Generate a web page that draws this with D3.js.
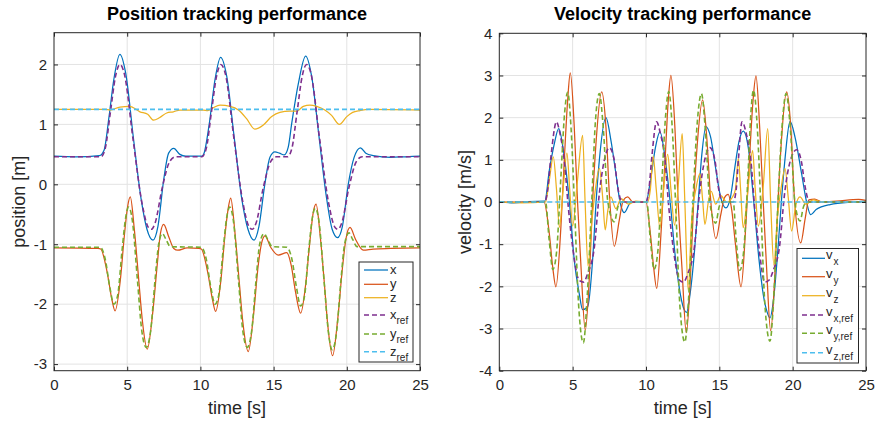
<!DOCTYPE html>
<html>
<head>
<meta charset="utf-8">
<script src="https://cdn.jsdelivr.net/npm/d3@7"></script>
<style>
  body { margin: 0; background: #fff; }
  svg { display: block; font-family: "Liberation Sans", Arial, Helvetica, sans-serif; }
</style>
</head>
<body>
<svg id="chart" width="880" height="428"></svg>
<script>
// ---- data: [time s, value] samples ----
const timeTicks = [0, 5, 10, 15, 20, 25];
const posTicks = [-3, -2, -1, 0, 1, 2];
const velTicks = [-4, -3, -2, -1, 0, 1, 2, 3, 4];

const posX = [[0,0.47],[1.5,0.46],[3.1,0.48],[3.42,0.57],[3.76,1.13],[4.08,1.74],[4.5,2.17],[4.9,1.85],[5.44,0.74],[5.96,-0.26],[6.35,-0.75],[6.76,-0.93],[7.1,-0.7],[7.49,0.07],[7.83,0.52],[8.18,0.6],[8.6,0.5],[9.0,0.47],[10.1,0.47],
  [10.25,0.52],[10.6,1.0],[11.0,1.75],[11.38,2.12],[11.8,1.8],[12.3,0.8],[12.8,-0.2],[13.25,-0.75],[13.66,-0.93],[14.0,-0.7],[14.4,0.0],[14.75,0.45],[15.09,0.54],[15.4,0.52],[15.73,0.49],[16.0,0.62],[16.24,1.02],[16.69,1.68],[17.19,2.14],
  [17.6,1.8],[18.1,0.8],[18.6,-0.2],[19.0,-0.75],[19.37,-0.89],[19.7,-0.7],[20.1,0.0],[20.5,0.45],[20.93,0.61],[21.3,0.52],[21.8,0.48],[23.0,0.45],[24.0,0.46],[25,0.47]];
const posY = [[0,-1.06],[3.0,-1.07],[3.19,-1.08],[3.64,-1.48],[3.96,-1.93],[4.17,-2.11],[4.53,-1.6],[4.8,-0.87],[5.03,-0.37],[5.21,-0.21],[5.49,-0.76],[5.79,-1.6],[6.03,-2.26],[6.37,-2.75],[6.74,-2.15],[7.06,-1.32],[7.27,-0.82],[7.49,-0.67],[7.83,-0.87],[8.18,-1.07],[8.45,-1.1],[9.1,-1.06],[9.9,-1.07],
  [10.06,-1.08],[10.51,-1.48],[10.83,-1.93],[11.04,-2.12],[11.4,-1.6],[11.67,-0.87],[11.9,-0.4],[12.07,-0.23],[12.35,-0.78],[12.65,-1.62],[12.9,-2.3],[13.27,-2.79],[13.62,-2.2],[13.95,-1.35],[14.18,-0.98],[14.41,-0.86],[14.8,-1.05],[15.32,-1.18],[15.9,-1.14],
  [16.2,-1.35],[16.5,-1.8],[16.85,-2.15],[17.2,-1.65],[17.48,-0.95],[17.72,-0.45],[17.9,-0.33],[18.18,-0.85],[18.45,-1.6],[18.7,-2.35],[19.03,-2.86],[19.38,-2.25],[19.7,-1.4],[19.95,-0.9],[20.22,-0.72],[20.6,-0.92],[21.13,-1.1],[21.8,-1.08],[23.0,-1.07],[25,-1.06]];
const posZ = [[0,1.25],[3.5,1.25],[3.83,1.24],[4.5,1.29],[5.17,1.3],[5.87,1.21],[6.4,1.17],[6.8,1.07],[7.2,1.11],[7.7,1.19],[8.15,1.21],[8.6,1.24],[10.2,1.24],[10.5,1.23],[10.88,1.28],[11.34,1.32],[12.03,1.3],[12.6,1.24],[13.14,1.1],[13.72,0.92],[14.3,0.99],[14.87,1.13],[15.43,1.2],[16.1,1.22],[16.57,1.22],
  [17.03,1.3],[17.48,1.32],[17.94,1.3],[18.5,1.24],[18.96,1.15],[19.49,1.0],[20.0,1.13],[20.4,1.2],[20.9,1.23],[21.5,1.25],[25,1.24]];
const posXRef = [[0,0.46],[3.2,0.46],[3.5,0.6],[3.85,1.2],[4.2,1.8],[4.5,2.0],[4.8,1.85],[5.4,0.75],[6.0,-0.3],[6.45,-0.72],[6.65,-0.75],[6.9,-0.65],[7.4,-0.05],[7.9,0.38],[8.3,0.46],[10.1,0.46],
  [10.4,0.6],[10.75,1.2],[11.1,1.8],[11.4,2.0],[11.7,1.85],[12.3,0.75],[12.9,-0.3],[13.35,-0.72],[13.55,-0.75],[13.8,-0.65],[14.3,-0.05],[14.8,0.38],[15.2,0.46],[15.95,0.46],
  [16.25,0.6],[16.6,1.2],[16.95,1.8],[17.25,2.0],[17.55,1.85],[18.15,0.75],[18.75,-0.3],[19.2,-0.72],[19.4,-0.75],[19.65,-0.65],[20.15,-0.05],[20.65,0.38],[21.05,0.46],[25,0.46]];
const posYRef = [[0,-1.05],[3.15,-1.05],[3.5,-1.25],[3.8,-1.7],[4.1,-2.0],[4.35,-1.85],[4.65,-1.1],[4.9,-0.55],[5.1,-0.38],[5.35,-0.6],[5.7,-1.6],[6.0,-2.45],[6.3,-2.72],[6.6,-2.45],[6.9,-1.6],[7.15,-1.0],[7.4,-0.82],[7.65,-0.92],[7.95,-1.04],[10.05,-1.05],
  [10.4,-1.25],[10.7,-1.7],[11.0,-2.0],[11.25,-1.85],[11.55,-1.1],[11.8,-0.55],[12.0,-0.38],[12.25,-0.6],[12.6,-1.6],[12.9,-2.45],[13.2,-2.72],[13.5,-2.45],[13.8,-1.6],[14.05,-1.0],[14.35,-0.82],[14.6,-0.92],[14.9,-1.04],[15.9,-1.05],
  [16.25,-1.25],[16.55,-1.7],[16.85,-2.03],[17.1,-1.88],[17.4,-1.1],[17.65,-0.55],[17.85,-0.4],[18.1,-0.62],[18.45,-1.62],[18.75,-2.48],[19.0,-2.76],[19.3,-2.47],[19.6,-1.6],[19.85,-1.0],[20.15,-0.81],[20.4,-0.92],[20.7,-1.04],[25,-1.04]];
const posZRef = [[0,1.25],[25,1.25]];

const velX = [[0,0],[1,-0.02],[2,0.01],[3.1,0.02],[3.41,0.75],[3.75,1.38],[4.05,1.74],[4.43,1.07],[4.77,0.04],[5.11,-1.38],[5.45,-2.17],[5.68,-2.55],[6.02,-2.49],[6.36,-1.38],[6.59,-0.04],[6.82,0.99],[7.27,2.0],[7.61,1.46],[7.95,0.67],[8.23,0],[8.52,-0.25],[8.98,0],[10.0,0],
  [10.3,0.5],[10.65,1.3],[10.95,1.66],[11.3,1.05],[11.65,0.0],[12.0,-1.3],[12.35,-2.2],[12.6,-2.55],[12.77,-2.62],[13.0,-2.2],[13.3,-1.2],[13.55,-0.05],[13.8,1.1],[14.09,1.79],[14.4,1.55],[14.75,0.8],[15.1,0.1],[15.45,-0.14],[15.75,0.1],[16.05,0.8],[16.35,1.45],[16.63,1.68],
  [16.97,1.3],[17.35,0.0],[17.7,-1.35],[18.0,-2.2],[18.25,-2.6],[18.45,-2.75],[18.7,-2.3],[19.0,-1.1],[19.25,0.1],[19.5,1.1],[19.82,1.91],[20.16,1.54],[20.61,0.67],[20.95,0.0],[21.23,-0.3],[21.6,-0.18],[22.55,-0.06],[24.1,0.0],[25,0.02]];
const velY = [[0,0],[3.05,0],[3.41,-0.75],[3.64,-1.54],[3.86,-2.01],[4.2,-0.59],[4.43,0.99],[4.66,2.41],[4.84,3.06],[5.11,1.78],[5.34,-0.04],[5.57,-1.54],[5.86,-3.04],[6.14,-1.78],[6.36,0],[6.59,1.38],[6.98,2.61],[7.27,1.78],[7.5,0.2],[7.84,-1.05],[8.18,-0.43],[8.45,0.04],[8.75,0.12],[9.1,0],[10,0],
  [10.3,-0.75],[10.52,-1.54],[10.73,-2.05],[11.05,-0.59],[11.3,0.99],[11.52,2.41],[11.7,3.0],[11.97,1.78],[12.2,-0.04],[12.45,-1.54],[12.75,-3.1],[13.03,-1.78],[13.25,0],[13.5,1.38],[13.86,2.42],[14.15,1.5],[14.4,0.1],[14.77,-0.87],[15.1,-0.3],[15.35,0.1],[15.6,0.18],[15.85,-0.2],[16.1,-1.0],
  [16.48,-2.01],[16.8,-0.6],[17.05,0.99],[17.3,2.41],[17.5,2.99],[17.75,1.78],[18.0,-0.04],[18.22,-1.54],[18.5,-3.05],[18.78,-1.78],[19.0,0],[19.22,1.38],[19.59,2.61],[19.87,1.78],[20.1,0.2],[20.55,-0.97],[20.85,-0.4],[21.1,0.05],[21.5,0.07],[22,0.0],[23,0.02],[24.5,0.06],[25,0.04]];
const velZ = [[0,0],[1.5,-0.02],[3.15,0],[3.4,0.5],[3.68,1.07],[3.9,0.3],[4.1,-0.6],[4.35,0.3],[4.61,1.16],[4.8,0.3],[5.0,-0.57],[5.3,0.4],[5.68,1.58],[5.85,0.0],[6.05,-1.52],[6.3,-0.5],[6.55,0.3],[6.82,0.8],[7.05,0.1],[7.22,-0.66],[7.4,-0.2],[7.6,0.12],[7.95,-0.16],[8.3,0.08],[8.8,-0.05],[9.3,0.02],[10.1,0],
  [10.3,0.3],[10.49,1.09],[10.7,0.3],[10.95,-0.61],[11.2,0.3],[11.48,1.13],[11.7,0.3],[11.95,-0.55],[12.2,0.4],[12.47,1.62],[12.65,0.0],[12.88,-2.1],[13.1,-0.5],[13.4,0.3],[13.68,0.67],[13.85,0.1],[14.02,-0.53],[14.25,0.0],[14.45,0.25],[14.75,-0.05],[15.1,0.15],[15.5,0.0],[15.9,0.12],
  [16.1,0.3],[16.3,1.03],[16.45,0.3],[16.63,-0.61],[16.95,0.3],[17.27,1.22],[17.45,0.3],[17.66,-0.57],[18.0,0.4],[18.3,1.74],[18.5,0.0],[18.72,-1.5],[18.95,-0.4],[19.2,0.3],[19.48,0.79],[19.7,0.1],[19.93,-0.69],[20.2,-0.1],[20.5,0.12],[20.9,-0.05],[21.4,0.05],[22,0],[25,0]];
const velXRef = [[0,0],[3.1,0],[3.3,0.3],[3.52,1.07],[3.9,1.9],[4.15,1.6],[4.43,0.99],[4.7,-0.1],[5.0,-1.07],[5.45,-1.86],[5.75,-1.9],[6.02,-1.7],[6.48,-1.07],[6.82,0.2],[7.16,0.99],[7.5,1.29],[7.84,0.99],[8.07,0.36],[8.4,0],[10.0,0],
  [10.2,0.3],[10.4,1.07],[10.72,1.9],[11.0,1.6],[11.3,0.99],[11.55,-0.1],[11.85,-1.07],[12.3,-1.86],[12.55,-1.9],[12.85,-1.7],[13.3,-1.07],[13.65,0.2],[14.0,0.99],[14.36,1.29],[14.7,0.99],[14.93,0.36],[15.25,0],[15.95,0],
  [16.15,0.3],[16.3,1.0],[16.55,1.9],[16.85,1.6],[17.15,0.99],[17.4,-0.1],[17.7,-1.07],[18.1,-1.9],[18.4,-1.85],[18.7,-1.6],[19.1,-1.07],[19.45,0.2],[19.85,0.99],[20.27,1.24],[20.6,0.95],[20.85,0.36],[21.15,0],[25,0]];
const velYRef = [[0,0],[3.15,0],[3.4,-0.9],[3.65,-1.6],[3.9,-1.2],[4.2,0.6],[4.45,2.1],[4.66,2.6],[4.9,1.7],[5.15,-0.3],[5.4,-2.4],[5.73,-3.34],[6.0,-2.2],[6.3,0.0],[6.55,1.9],[6.82,2.57],[7.1,1.7],[7.4,0.0],[7.84,-0.47],[8.1,-0.1],[8.3,0],[10.05,0],
  [10.3,-0.9],[10.55,-1.6],[10.8,-1.2],[11.1,0.6],[11.35,2.1],[11.55,2.62],[11.8,1.7],[12.05,-0.3],[12.3,-2.4],[12.65,-3.32],[12.92,-2.2],[13.2,0.0],[13.5,1.9],[13.78,2.57],[14.05,1.7],[14.35,0.0],[14.75,-0.5],[15.0,-0.1],[15.2,0],[15.95,0],
  [16.15,-0.9],[16.4,-1.62],[16.65,-1.2],[16.95,0.6],[17.15,2.1],[17.33,2.65],[17.6,1.7],[17.85,-0.3],[18.1,-2.4],[18.45,-3.3],[18.72,-2.2],[19.0,0.0],[19.3,1.9],[19.55,2.57],[19.85,1.7],[20.15,0.0],[20.5,-0.45],[20.75,-0.1],[21.0,0],[25,0]];
const velZRef = [[0,0],[25,0]];

const posLabels = [["x",""],["y",""],["z",""],["x","ref"],["y","ref"],["z","ref"]];
const velLabels = [["v","x"],["v","y"],["v","z"],["v","x,ref"],["v","y,ref"],["v","z,ref"]];

// ---- styling ----
const colors = ["#0072BD", "#D95319", "#EDB120", "#7E2F8E", "#77AC30", "#4DBEEE"];
const axisColor = "#262626";
const gridColor = "#e3e3e3";

const panels = [
  {
    id: "pos", left: 54, right: 420, top: 32.7, bottom: 370.7,
    yDomain: [-3.11, 2.53], yTicks: posTicks,
    title: "Position tracking performance", ylabel: "position [m]", ylabelX: 25,
    series: [posX, posY, posZ, posXRef, posYRef, posZRef], labels: posLabels,
    legend: { x: 359, y: 262, w: 54, h: 100, lineX0: 364, lineX1: 388, textX: 390, rows: [270, 284.3, 297.7, 315, 334, 351.7] }
  },
  {
    id: "vel", left: 499.3, right: 866, top: 33.3, bottom: 370.7,
    yDomain: [-4, 4], yTicks: velTicks,
    title: "Velocity tracking performance", ylabel: "velocity [m/s]", ylabelX: 471,
    series: [velX, velY, velZ, velXRef, velYRef, velZRef], labels: velLabels,
    legend: { x: 797, y: 248.5, w: 61.5, h: 114.5, lineX0: 802, lineX1: 825, textX: 826, rows: [258.3, 276.7, 295.7, 315, 333.3, 352.7] }
  }
];

const svg = d3.select("#chart");

panels.forEach(p => {
  const x = d3.scaleLinear().domain([0, 25]).range([p.left, p.right]);
  const y = d3.scaleLinear().domain(p.yDomain).range([p.bottom, p.top]);
  const w = p.right - p.left, h = p.bottom - p.top;
  const g = svg.append("g");

  // grid
  const grid = g.append("g").attr("stroke", gridColor).attr("stroke-width", 1);
  grid.selectAll("line.v").data(timeTicks.slice(1, -1)).join("line")
    .attr("x1", d => x(d)).attr("x2", d => x(d)).attr("y1", p.top).attr("y2", p.bottom);
  grid.selectAll("line.h").data(p.yTicks.filter(t => y(t) > p.top + 1 && y(t) < p.bottom - 1)).join("line")
    .attr("x1", p.left).attr("x2", p.right).attr("y1", d => y(d)).attr("y2", d => y(d));

  // data curves
  const clipId = "clip-" + p.id;
  svg.append("clipPath").attr("id", clipId).append("rect")
    .attr("x", p.left).attr("y", p.top).attr("width", w).attr("height", h);
  const line = d3.line().x(d => x(d[0])).y(d => y(d[1])).curve(d3.curveMonotoneX);
  const plot = g.append("g").attr("clip-path", `url(#${clipId})`);
  p.series.forEach((s, i) => {
    const isRef = i >= 3;
    plot.append("path").datum(s)
      .attr("d", line)
      .attr("fill", "none")
      .attr("stroke", colors[i])
      .attr("stroke-width", isRef ? 1.6 : 1.25)
      .attr("stroke-dasharray", isRef ? "5,3" : null)
      .attr("stroke-linejoin", "round");
  });

  // axes (ticks point inward, box on all sides)
  const styleAxis = sel => {
    sel.select(".domain").remove();
    sel.selectAll(".tick line").attr("stroke", axisColor);
    sel.selectAll(".tick text").attr("fill", axisColor).attr("font-size", 15)
      .attr("font-family", "'Liberation Sans', Arial, Helvetica, sans-serif");
  };
  g.append("g").attr("transform", `translate(0,${p.bottom})`)
    .call(d3.axisBottom(x).tickValues(timeTicks).tickSizeInner(-4).tickSizeOuter(0).tickPadding(8.6))
    .call(styleAxis);
  g.append("g").attr("transform", `translate(0,${p.top})`)
    .call(d3.axisTop(x).tickValues(timeTicks).tickSizeInner(-4).tickSizeOuter(0).tickFormat(""))
    .call(styleAxis);
  g.append("g").attr("transform", `translate(${p.left},0)`)
    .call(d3.axisLeft(y).tickValues(p.yTicks).tickSizeInner(-4).tickSizeOuter(0).tickPadding(7).tickFormat(d3.format("d")))
    .call(styleAxis);
  g.append("g").attr("transform", `translate(${p.right},0)`)
    .call(d3.axisRight(y).tickValues(p.yTicks).tickSizeInner(-4).tickSizeOuter(0).tickFormat(""))
    .call(styleAxis);
  g.selectAll(".tick text").text(function () { return this.textContent.replace("\u2212", "-"); });

  g.append("rect").attr("x", p.left).attr("y", p.top).attr("width", w).attr("height", h)
    .attr("fill", "none").attr("stroke", axisColor).attr("stroke-width", 1);

  // titles and labels
  g.append("text").attr("x", (p.left + p.right) / 2).attr("y", 20)
    .attr("text-anchor", "middle").attr("font-weight", "bold").attr("font-size", 18)
    .attr("fill", "#000").text(p.title);
  g.append("text").attr("x", (p.left + p.right) / 2).attr("y", 414)
    .attr("text-anchor", "middle").attr("font-size", 18).attr("fill", axisColor).text("time [s]");
  g.append("text")
    .attr("transform", `translate(${p.ylabelX},${(p.top + p.bottom) / 2}) rotate(-90)`)
    .attr("text-anchor", "middle").attr("font-size", 18).attr("fill", axisColor).text(p.ylabel);

  // legend
  const L = p.legend;
  const lg = g.append("g");
  lg.append("rect").attr("x", L.x).attr("y", L.y).attr("width", L.w).attr("height", L.h)
    .attr("fill", "#fff").attr("stroke", axisColor).attr("stroke-width", 1);
  p.labels.forEach((lab, i) => {
    const ry = L.rows[i];
    lg.append("line").attr("x1", L.lineX0).attr("x2", L.lineX1).attr("y1", ry).attr("y2", ry)
      .attr("stroke", colors[i]).attr("stroke-width", i >= 3 ? 1.6 : 1.25)
      .attr("stroke-dasharray", i >= 3 ? "5,3" : null);
    const isVel = p.id === "vel";
    const t = lg.append("text").attr("x", L.textX).attr("y", ry + (isVel ? 1 : 4))
      .attr("font-size", 13).attr("fill", axisColor);
    t.append("tspan").text(lab[0]);
    if (lab[1]) {
      t.append("tspan").attr("dy", isVel ? 6 : 5).attr("dx", isVel ? 1 : 0)
        .attr("font-size", 10).text(lab[1]);
    }
  });
});
</script>
</body>
</html>
